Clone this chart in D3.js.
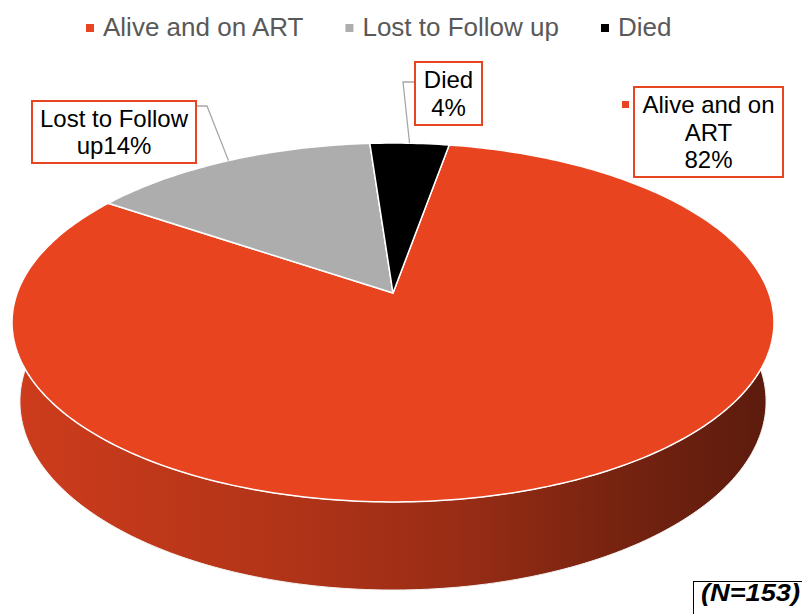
<!DOCTYPE html>
<html>
<head>
<meta charset="utf-8">
<script src="https://cdn.jsdelivr.net/npm/d3@7"></script>
<style>
  body { margin: 0; background: #fff; }
  svg { display: block; font-family: "Liberation Sans", Arial, sans-serif; }
</style>
</head>
<body>
<div id="viz"></div>
<script>
// data (N = 153)
var categories = ["Alive and on ART", "Lost to Follow up", "Died"];
var counts = [125, 22, 6];
var colors = ["#e84420", "#adadad", "#000000"];
// label text as it is split in the boxes (percent added from counts)
var labelLines = [["Alive and on", "ART"], ["Lost to Follow"], ["Died"]];
var labelPctJoin = ["newline", "inline", "newline"];
var totalText = "(N=153)";

var w = 802, h = 614;
var svg = d3.select("div#viz").append("svg")
  .attr("width", w)
  .attr("height", h);

// 3d pie geometry (perspective, like the office 3-D pie)
var cx = 393, cy = 293, S = 375.8;
var sinPhi = 0.4646, cosPhi = Math.sqrt(1 - sinPhi * sinPhi);
var f = 5.39, depth = 0.2397;
var startDeg = 10;

var total = d3.sum(counts);
var data = categories.map(function(c, i) {
  return { name: c, value: counts[i], color: colors[i], i: i };
});

var pie = d3.pie()
  .sort(null)
  .value(function(d) { return d.value; })
  .startAngle(startDeg * Math.PI / 180)
  .endAngle(startDeg * Math.PI / 180 + 2 * Math.PI);
var arcs = pie(data);

var pct = function(d) { return Math.round(d.value / total * 100) + "%"; };

var project = function(theta, level) {
  var x = Math.sin(theta), y = -depth * level, z = -Math.cos(theta);
  var yv = y * cosPhi - z * sinPhi;
  var zv = y * sinPhi + z * cosPhi;
  var s = f / (f - zv);
  return [cx + S * x * s, cy - S * yv * s];
};

var arcPoints = function(a0, a1, level) {
  var n = Math.max(2, Math.ceil(Math.abs(a1 - a0) / (Math.PI / 180)));
  var pts = [];
  for (var i = 0; i <= n; i++) {
    pts.push(project(a0 + (a1 - a0) * i / n, level));
  }
  return pts;
};

var line = d3.line();
var defs = svg.append("defs");

// side walls first
arcs.forEach(function(a, i) {
  var g = defs.append("linearGradient")
    .attr("id", "wall" + i)
    .attr("gradientUnits", "userSpaceOnUse")
    .attr("x1", cx - S).attr("x2", cx + S)
    .attr("y1", 0).attr("y2", 0);
  [[0, 0.35], [0.35, 0.75], [0.6, 1.2], [0.8, 1.9], [1, 2.6]].forEach(function(s) {
    g.append("stop").attr("offset", s[0])
      .attr("stop-color", d3.color(a.data.color).darker(s[1]).formatHex());
  });
  var pts = arcPoints(a.startAngle, a.endAngle, 0)
    .concat(arcPoints(a.endAngle, a.startAngle, 1));
  svg.append("path")
    .attr("class", "wall")
    .attr("d", line(pts) + "Z")
    .attr("fill", "url(#wall" + i + ")")
    .attr("stroke", "#f2f2f2")
    .attr("stroke-width", 1);
});

// top faces
svg.selectAll("path.top")
  .data(arcs)
  .enter()
  .append("path")
  .attr("class", "top")
  .attr("d", function(a) {
    return line([[cx, cy]].concat(arcPoints(a.startAngle, a.endAngle, 0))) + "Z";
  })
  .attr("fill", function(a) { return a.data.color; })
  .attr("stroke", "#ffffff")
  .attr("stroke-width", 1.5)
  .attr("stroke-linejoin", "round");

// data labels
var boxes = [
  { x: 634, y: 87, w: 149, h: 90, key: true, leader: null },
  { x: 32, y: 101, w: 164, h: 62, key: false, leader: [[196, 106], [207, 106]] },
  { x: 415, y: 62, w: 67, h: 63, key: false, leader: [[415, 82], [403, 82]] }
];

arcs.forEach(function(a, i) {
  var b = boxes[i];
  if (b.leader) {
    var mid = (a.startAngle + a.endAngle) / 2;
    svg.append("path")
      .attr("d", line(b.leader.concat([project(mid, 0)])))
      .attr("fill", "none")
      .attr("stroke", "#a6a6a6")
      .attr("stroke-width", 1.3);
  }
  svg.append("rect")
    .attr("x", b.x).attr("y", b.y)
    .attr("width", b.w).attr("height", b.h)
    .attr("fill", "#fff")
    .attr("stroke", colors[0])
    .attr("stroke-width", 2);
  if (b.key) {
    svg.append("rect")
      .attr("x", b.x - 12).attr("y", b.y + 14)
      .attr("width", 7).attr("height", 7)
      .attr("fill", a.data.color);
  }
  var lines = labelLines[i].slice();
  if (labelPctJoin[i] == "inline") {
    lines = ["Lost to Follow", "up" + pct(a.data)];
  } else {
    lines.push(pct(a.data));
  }
  var lh = 27.5;
  var firstBase = b.y + b.h / 2 - (lines.length - 1) * lh / 2 + 8.5;
  var t = svg.append("text")
    .attr("text-anchor", "middle")
    .attr("font-size", 24)
    .attr("fill", "#000");
  lines.forEach(function(l, j) {
    t.append("tspan")
      .attr("x", b.x + b.w / 2)
      .attr("y", firstBase + j * lh)
      .text(l);
  });
});

// legend on top
var legend = svg.append("g");
var lx = 86;
data.forEach(function(d) {
  legend.append("rect")
    .attr("x", lx).attr("y", 24)
    .attr("width", 8).attr("height", 8)
    .attr("fill", d.color);
  var txt = legend.append("text")
    .attr("x", lx + 17).attr("y", 36)
    .attr("font-size", 26)
    .attr("fill", "#595959")
    .text(d.name);
  lx = lx + 17 + txt.node().getComputedTextLength() + 42;
});

// N box bottom right
svg.append("rect")
  .attr("x", 693.5).attr("y", 581.5)
  .attr("width", 130).attr("height", 50)
  .attr("fill", "#fff")
  .attr("stroke", "#000")
  .attr("stroke-width", 1);
svg.append("text")
  .attr("x", 701).attr("y", 601)
  .attr("font-size", 24)
  .attr("font-weight", "bold")
  .attr("font-style", "italic")
  .attr("textLength", 99)
  .attr("lengthAdjust", "spacingAndGlyphs")
  .text(totalText);
</script>
</body>
</html>
